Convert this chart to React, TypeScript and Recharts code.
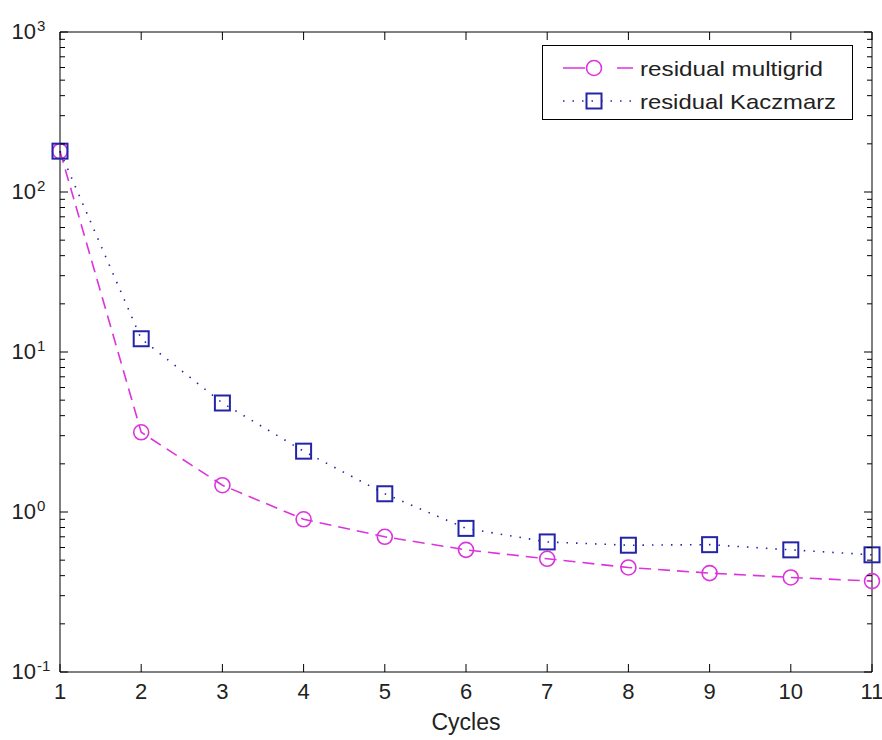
import { Legend, Line, LineChart, XAxis, YAxis } from "recharts";

// residual per cycle
const cycles = [1, 2, 3, 4, 5, 6, 7, 8, 9, 10, 11];
const multigrid = [180, 3.15, 1.47, 0.9, 0.7, 0.58, 0.51, 0.45, 0.415, 0.39, 0.37];
const kaczmarz = [180, 12.1, 4.8, 2.4, 1.3, 0.79, 0.65, 0.62, 0.625, 0.58, 0.54];

const xTicks = [1, 2, 3, 4, 5, 6, 7, 8, 9, 10, 11];
const yMajor = [0.1, 1, 10, 100, 1000];
const yMinor = [
  0.2, 0.3, 0.4, 0.5, 0.6, 0.7, 0.8, 0.9,
  2, 3, 4, 5, 6, 7, 8, 9,
  20, 30, 40, 50, 60, 70, 80, 90,
  200, 300, 400, 500, 600, 700, 800, 900,
];
const yTicks = [...yMajor, ...yMinor].sort((a, b) => a - b);

const data = cycles.map((c, i) => ({ cycle: c, multigrid: multigrid[i], kaczmarz: kaczmarz[i] }));

const MG = "#dc34dc";
const KZ = "#2424a8";
const FONT = "'Liberation Sans', Arial, Helvetica, sans-serif";

function LeftTick({ x, y, payload }: any) {
  const v = payload.value;
  const major = yMajor.includes(v);
  const exp = Math.round(Math.log10(v));
  return (
    <g>
      <line x1={x} x2={x + (major ? 8 : 5)} y1={y} y2={y} stroke="#000" />
      {major && (
        <g fontFamily={FONT} fill="#222">
          <text x={x - 24} y={y + 7} textAnchor="end" fontSize={22}>10</text>
          <text x={x - 23} y={y - 1} textAnchor="start" fontSize={15}>{exp}</text>
        </g>
      )}
    </g>
  );
}

function RightTick({ x, y, payload }: any) {
  const major = yMajor.includes(payload.value);
  return <line x1={x} x2={x - (major ? 8 : 5)} y1={y} y2={y} stroke="#000" />;
}

function BottomTick({ x, y, payload }: any) {
  return (
    <g>
      <line x1={x} x2={x} y1={y} y2={y - 8} stroke="#000" />
      <text x={x} y={y + 27} textAnchor="middle" fontSize={22} fontFamily={FONT} fill="#222">
        {payload.value}
      </text>
    </g>
  );
}

function TopTick({ x, y }: any) {
  return <line x1={x} x2={x} y1={y} y2={y + 8} stroke="#000" />;
}

function Square(p: any) {
  if (p.cx == null || p.cy == null) return null;
  return (
    <rect
      key={`sq-${p.index}`}
      x={p.cx - 7.5}
      y={p.cy - 7.5}
      width={15}
      height={15}
      fill="none"
      stroke={KZ}
      strokeWidth={2}
      strokeDasharray="none"
    />
  );
}

function Ring(p: any) {
  if (p.cx == null || p.cy == null) return null;
  return (
    <circle
      key={`ci-${p.index}`}
      cx={p.cx}
      cy={p.cy}
      r={7.5}
      fill="none"
      stroke={MG}
      strokeWidth={1.6}
      strokeDasharray="none"
    />
  );
}

function LegendBox() {
  return (
    <div style={{ width: 311, height: 75, border: "1px solid #000", background: "#fff", boxSizing: "border-box" }}>
      <svg width={309} height={73} style={{ display: "block" }}>
        <line x1={20} x2={90} y1={22} y2={22} stroke={MG} strokeWidth={1.6} strokeDasharray="22 32 16" />
        <circle cx={51} cy={22} r={7.5} fill="none" stroke={MG} strokeWidth={1.6} />
        <line x1={20} x2={90} y1={55} y2={55} stroke={KZ} strokeWidth={1.6} strokeDasharray="1.5 8" />
        <rect x={43.5} y={47.5} width={15} height={15} fill="none" stroke={KZ} strokeWidth={2} />
        <g fontFamily={FONT} fontSize={21} fill="#222">
          <text x={97} y={30} textLength={183} lengthAdjust="spacingAndGlyphs">residual multigrid</text>
          <text x={97} y={63} textLength={196} lengthAdjust="spacingAndGlyphs">residual Kaczmarz</text>
        </g>
      </svg>
    </div>
  );
}

export default function App() {
  return (
    <div style={{ position: "absolute", left: 0, top: 0, width: 882, height: 740, background: "#fff" }}>
      <LineChart width={882} height={740} data={data} margin={{ top: 0, right: 0, bottom: 0, left: 0 }}>
        <XAxis
          xAxisId="bottom"
          dataKey="cycle"
          type="number"
          domain={[1, 11]}
          ticks={xTicks}
          interval={0}
          height={68}
          tickSize={0}
          tickMargin={0}
          tickLine={false}
          axisLine={{ stroke: "#000" }}
          tick={<BottomTick />}
          label={{ value: "Cycles", position: "insideBottom", offset: 10, fontSize: 23, fontFamily: FONT, fill: "#222" }}
        />
        <XAxis
          xAxisId="top"
          orientation="top"
          dataKey="cycle"
          type="number"
          domain={[1, 11]}
          ticks={xTicks}
          interval={0}
          height={32}
          tickSize={0}
          tickMargin={0}
          tickLine={false}
          axisLine={{ stroke: "#000" }}
          tick={<TopTick />}
        />
        <YAxis
          yAxisId="left"
          scale="log"
          type="number"
          domain={[0.1, 1000]}
          allowDataOverflow
          ticks={yTicks}
          interval={0}
          width={60}
          tickSize={0}
          tickMargin={0}
          tickLine={false}
          axisLine={{ stroke: "#000" }}
          tick={<LeftTick />}
        />
        <YAxis
          yAxisId="right"
          orientation="right"
          scale="log"
          type="number"
          domain={[0.1, 1000]}
          allowDataOverflow
          ticks={yTicks}
          interval={0}
          width={10}
          tickSize={0}
          tickMargin={0}
          tickLine={false}
          axisLine={{ stroke: "#000" }}
          tick={<RightTick />}
        />
        <Legend
          layout="vertical"
          align="center"
          verticalAlign="middle"
          wrapperStyle={{ left: 542, top: 45, width: 311, height: 75 }}
          content={<LegendBox />}
        />
        <Line
          xAxisId="bottom"
          yAxisId="left"
          type="linear"
          dataKey="multigrid"
          name="residual multigrid"
          stroke={MG}
          strokeWidth={1.6}
          strokeDasharray="12 7"
          dot={Ring}
          activeDot={false}
          isAnimationActive={false}
        />
        <Line
          xAxisId="bottom"
          yAxisId="left"
          type="linear"
          dataKey="kaczmarz"
          name="residual Kaczmarz"
          stroke={KZ}
          strokeWidth={1.6}
          strokeDasharray="1.5 8"
          dot={Square}
          activeDot={false}
          isAnimationActive={false}
        />
      </LineChart>
    </div>
  );
}
